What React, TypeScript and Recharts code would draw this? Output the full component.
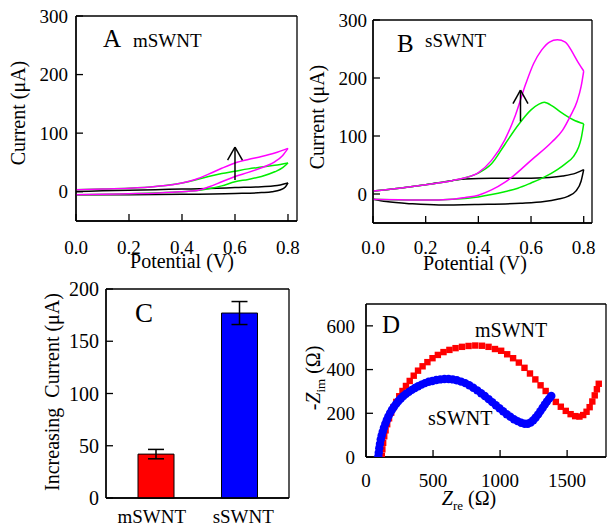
import React from 'react';
import {
  LineChart,
  Line,
  XAxis,
  YAxis,
  CartesianGrid,
  ReferenceLine,
  BarChart,
  Bar,
  Cell,
  ErrorBar,
  ScatterChart,
  Scatter,
} from 'recharts';

const FONT = '"Liberation Serif", "Times New Roman", Times, serif';

// Panel A - mSWNT cyclic voltammograms, [potential V, current uA]
const aBlackFwd = [[0, 0.5], [0.1, 1.5], [0.2, 2.5], [0.3, 3.5], [0.4, 4.5], [0.5, 5.5], [0.6, 7], [0.7, 8.5], [0.75, 10], [0.8, 15]];
const aBlackRev = [[0, -5], [0.2, -5], [0.4, -4.5], [0.6, -3], [0.7, -1.5], [0.74, 0], [0.77, 3], [0.79, 8], [0.8, 15]];
const aGreenFwd = [[0, 3.5], [0.1, 4.5], [0.2, 6], [0.3, 9], [0.4, 15], [0.45, 20], [0.5, 26], [0.55, 31], [0.6, 35], [0.65, 39], [0.7, 42], [0.75, 45], [0.8, 49]];
const aGreenRev = [[0, -5], [0.2, -3.5], [0.4, 0], [0.45, 1.5], [0.5, 5], [0.55, 10], [0.6, 17], [0.65, 21], [0.7, 26], [0.75, 34], [0.78, 41], [0.8, 49]];
const aPinkFwd = [[0, 3.5], [0.1, 4.5], [0.2, 6], [0.3, 9], [0.4, 15], [0.45, 21], [0.5, 30], [0.55, 40], [0.6, 49], [0.65, 55], [0.7, 60], [0.75, 66], [0.8, 74]];
const aPinkRev = [[0, -5], [0.1, -4.5], [0.2, -3.5], [0.3, -2.5], [0.4, 0], [0.45, 1.5], [0.5, 8], [0.55, 17], [0.6, 26], [0.65, 33], [0.7, 41], [0.75, 51], [0.78, 62], [0.8, 74]];

// Panel B - sSWNT cyclic voltammograms
const bBlackFwd = [[0, 5], [0.1, 10], [0.2, 16], [0.3, 23], [0.35, 26], [0.45, 27], [0.55, 27], [0.65, 28], [0.72, 31], [0.77, 36], [0.8, 42]];
const bBlackRev = [[0, -9], [0.05, -13], [0.15, -17], [0.25, -19], [0.4, -18], [0.56, -16], [0.65, -13], [0.7, -9], [0.74, -4], [0.77, 5], [0.79, 22], [0.8, 42]];
const bGreenFwd = [[0, 5], [0.1, 10], [0.2, 16], [0.3, 23], [0.35, 28], [0.4, 36], [0.45, 52], [0.5, 85], [0.55, 118], [0.6, 145], [0.63, 155], [0.65, 158], [0.68, 152], [0.71, 142], [0.76, 128], [0.8, 121]];
const bGreenRev = [[0, -9], [0.2, -10.5], [0.3, -9], [0.4, -5], [0.45, -1], [0.5, 4], [0.55, 10], [0.6, 19], [0.65, 29], [0.7, 42], [0.73, 52], [0.76, 64], [0.78, 80], [0.79, 95], [0.8, 121]];
const bPinkFwd = [[0, 5], [0.1, 10], [0.2, 16], [0.3, 23], [0.35, 28], [0.4, 37], [0.45, 58], [0.5, 93], [0.54, 135], [0.58, 190], [0.61, 225], [0.64, 248], [0.67, 262], [0.7, 266], [0.73, 262], [0.76, 242], [0.78, 226], [0.8, 212]];
const bPinkRev = [[0, -9], [0.1, -10], [0.2, -10.5], [0.3, -9], [0.35, -6], [0.4, -2], [0.45, 7], [0.5, 20], [0.53, 30], [0.6, 58], [0.68, 90], [0.72, 110], [0.75, 135], [0.775, 160], [0.79, 185], [0.8, 212]];

// arrows: [x, yStart, yTip]
const arrowA = [0.6, 20, 76];
const arrowB = [0.56, 125, 179];

const potTicks = [0, 0.2, 0.4, 0.6, 0.8];
const curTicks = [0, 100, 200, 300];

// Panel C - increasing current
const barCats = ['mSWNT', 'sSWNT'];
const barVals = [42, 177];
const barErrs = [4.5, 11];
const barColors = ['#ff0000', '#0000ff'];
const incTicks = [0, 50, 100, 150, 200];

// Panel D - Nyquist plots, [Zre, -Zim] ohm
const dM = [
  [118, 5], [122, 35], [128, 65], [136, 95], [146, 122], [158, 150], [172, 177], [188, 203], [206, 228],
  [226, 252], [248, 278], [272, 302], [298, 325], [326, 348], [356, 372], [388, 395], [422, 415],
  [458, 434], [496, 452], [536, 467], [578, 480], [622, 490], [668, 498], [716, 504], [765, 508],
  [815, 510], [865, 509], [914, 504], [962, 494], [1008, 486], [1053, 470], [1097, 452], [1140, 432],
  [1182, 408], [1223, 382], [1263, 355], [1302, 328], [1340, 302], [1378, 276], [1416, 252],
  [1453, 230], [1490, 211], [1526, 196], [1560, 187], [1592, 185], [1620, 192], [1645, 207],
  [1668, 228], [1688, 254], [1706, 282], [1722, 310], [1736, 335],
];
const dS = [
  [92, 2], [95, 20], [99, 40], [104, 60], [110, 80], [117, 98], [125, 116], [134, 134], [144, 151],
  [155, 168], [167, 186], [180, 201], [194, 216], [209, 230], [225, 243], [242, 256], [260, 268],
  [279, 279], [299, 289], [320, 298], [342, 307], [365, 316], [389, 324], [414, 331], [440, 338],
  [467, 344], [495, 348], [524, 352], [554, 355], [585, 357], [616, 357], [647, 355], [678, 351],
  [709, 345], [740, 338], [770, 328], [800, 317], [829, 305], [858, 292], [886, 279], [914, 265],
  [941, 251], [968, 237], [995, 223], [1022, 209], [1049, 196], [1076, 184], [1103, 173],
  [1130, 164], [1157, 157], [1183, 152], [1207, 152], [1228, 158], [1248, 168], [1266, 181],
  [1284, 195], [1301, 210], [1318, 225], [1334, 240], [1350, 254], [1366, 267], [1382, 279],
];
const zreTicks = [0, 500, 1000, 1500];
const zimTicks = [0, 200, 400, 600];

const pts = (a: number[][]) => a.map(([x, y]) => ({ x, y }));

const serif = { fontFamily: FONT };

const leftTick = (gap: number, size: number) => (p: any) => (
  <g>
    <line x1={p.x} x2={p.x + 7} y1={p.y} y2={p.y} stroke="#000" strokeWidth={1.3} />
    <text x={p.x - gap} y={p.y} dy="0.35em" textAnchor="end" fontSize={size} style={serif} fill="#000">
      {p.payload.value}
    </text>
  </g>
);

const bottomTick = (off: number, size: number, fmt?: (v: number) => string) => (p: any) => (
  <g>
    <line x1={p.x} x2={p.x} y1={p.y} y2={p.y - 7} stroke="#000" strokeWidth={1.3} />
    <text x={p.x} y={p.y + off} dy="0.35em" textAnchor="middle" fontSize={size} style={serif} fill="#000">
      {fmt ? fmt(p.payload.value) : p.payload.value}
    </text>
  </g>
);

const catTick = (p: any) => (
  <text x={p.x + (p.index === 0 ? -4 : 4)} y={p.y + 25} textAnchor="middle" fontSize={19} style={serif} fill="#000">
    {p.payload.value}
  </text>
);

const axisLine = { stroke: '#000', strokeWidth: 1.3 };

const boxGrid = (
  <CartesianGrid
    stroke="#000"
    strokeWidth={1.3}
    horizontalCoordinatesGenerator={({ offset }: any) => [offset.top, offset.top + offset.height]}
    verticalCoordinatesGenerator={({ offset }: any) => [offset.left, offset.left + offset.width]}
  />
);

const arrowLines = (a: number[], headW: number, headH: number) => {
  const [x, y0, y1] = a;
  return [
    <ReferenceLine key="s" segment={[{ x, y: y0 }, { x, y: y1 }]} stroke="#000" strokeWidth={1.5} />,
    <ReferenceLine key="l" segment={[{ x: x - headW, y: y1 - headH }, { x, y: y1 }]} stroke="#000" strokeWidth={1.5} />,
    <ReferenceLine key="r" segment={[{ x: x + headW, y: y1 - headH }, { x, y: y1 }]} stroke="#000" strokeWidth={1.5} />,
  ];
};

const cvLine = (d: number[][], color: string, key: string) => (
  <Line
    key={key}
    data={pts(d)}
    dataKey="y"
    type="monotone"
    stroke={color}
    strokeWidth={1.5}
    dot={false}
    isAnimationActive={false}
  />
);

const Square = (p: any) => <rect x={p.cx - 3.2} y={p.cy - 3.2} width={6.4} height={6.4} fill="#ff0000" />;
const Dot = (p: any) => <circle cx={p.cx} cy={p.cy} r={4.2} fill="#0000ff" />;

export default function App() {
  const barData = barCats.map((name, i) => ({ name, value: barVals[i], err: barErrs[i] }));
  return (
    <div style={{ position: 'absolute', left: 0, top: 0, width: 610, height: 527, background: '#fff', fontFamily: FONT }}>
      <div style={{ position: 'absolute', left: 0, top: 0 }}>
        <LineChart width={305} height={275} margin={{ top: 16, right: 8, left: 0, bottom: 0 }} style={serif}>
          {boxGrid}
          <XAxis type="number" dataKey="x" domain={[0, 0.834]} ticks={potTicks} interval={0} allowDataOverflow
            height={54} tickLine={false} tickSize={0} tickMargin={0} axisLine={axisLine}
            tick={bottomTick(26, 19, (v) => v.toFixed(1))} />
          <YAxis type="number" domain={[-50, 300]} ticks={curTicks} interval={0} allowDataOverflow
            width={76} tickLine={false} tickSize={0} tickMargin={0} axisLine={axisLine} tick={leftTick(8, 19)} />
          {cvLine(aBlackFwd, '#000', 'a1')}
          {cvLine(aBlackRev, '#000', 'a2')}
          {cvLine(aGreenFwd, '#00ee00', 'a3')}
          {cvLine(aGreenRev, '#00ee00', 'a4')}
          {cvLine(aPinkFwd, '#ff00ff', 'a5')}
          {cvLine(aPinkRev, '#ff00ff', 'a6')}
          {arrowLines(arrowA, 0.028, 22)}
        </LineChart>
      </div>
      <div style={{ position: 'absolute', left: 300, top: 0 }}>
        <LineChart width={305} height={275} margin={{ top: 20, right: 13, left: 0, bottom: 0 }} style={serif}>
          {boxGrid}
          <XAxis type="number" dataKey="x" domain={[0, 0.8315]} ticks={potTicks} interval={0} allowDataOverflow
            height={52} tickLine={false} tickSize={0} tickMargin={0} axisLine={axisLine}
            tick={bottomTick(24.5, 19, (v) => v.toFixed(1))} />
          <YAxis type="number" domain={[-50, 300]} ticks={curTicks} interval={0} allowDataOverflow
            width={73} tickLine={false} tickSize={0} tickMargin={0} axisLine={axisLine} tick={leftTick(6, 19)} />
          {cvLine(bBlackFwd, '#000', 'b1')}
          {cvLine(bBlackRev, '#000', 'b2')}
          {cvLine(bGreenFwd, '#00ee00', 'b3')}
          {cvLine(bGreenRev, '#00ee00', 'b4')}
          {cvLine(bPinkFwd, '#ff00ff', 'b5')}
          {cvLine(bPinkRev, '#ff00ff', 'b6')}
          {arrowLines(arrowB, 0.0285, 23)}
        </LineChart>
      </div>
      <div style={{ position: 'absolute', left: 0, top: 275 }}>
        <BarChart width={305} height={252} data={barData} margin={{ top: 14, right: 16, left: 0, bottom: 0 }} style={serif}>
          {boxGrid}
          <XAxis dataKey="name" height={29} padding={{ left: 8, right: 8 }} tickLine={false} tickSize={0}
            tickMargin={0} axisLine={axisLine} tick={catTick} interval={0} />
          <YAxis type="number" domain={[0, 200]} ticks={incTicks} interval={0} width={106} tickLine={false}
            tickSize={0} tickMargin={0} axisLine={axisLine} tick={leftTick(7, 20)} />
          <Bar dataKey="value" barSize={36} stroke="#000" strokeWidth={1} isAnimationActive={false}>
            {barData.map((d, i) => (
              <Cell key={d.name} fill={barColors[i]} />
            ))}
            <ErrorBar dataKey="err" width={8} stroke="#000" strokeWidth={1.5} />
          </Bar>
        </BarChart>
      </div>
      <div style={{ position: 'absolute', left: 300, top: 275 }}>
        <ScatterChart width={310} height={252} margin={{ top: 29, right: 4, left: 0, bottom: 0 }} style={serif}>
          {boxGrid}
          <XAxis type="number" dataKey="x" domain={[0, 1790]} ticks={zreTicks} interval={0} allowDataOverflow
            height={70} tickLine={false} tickSize={0} tickMargin={0} axisLine={axisLine} tick={bottomTick(23, 19)} />
          <YAxis type="number" dataKey="y" domain={[0, 700]} ticks={zimTicks} interval={0} allowDataOverflow
            width={66} tickLine={false} tickSize={0} tickMargin={0} axisLine={axisLine} tick={leftTick(11, 19)} />
          <Scatter data={pts(dM)} shape={Square} isAnimationActive={false} />
          <Scatter data={pts(dS)} shape={Dot} isAnimationActive={false} />
        </ScatterChart>
      </div>
      <svg width={610} height={527} style={{ position: 'absolute', left: 0, top: 0, pointerEvents: 'none' }}>
        <g fill="#000" style={serif}>
          <text x={103} y={47} fontSize={25}>A</text>
          <text x={133} y={47} fontSize={19}>mSWNT</text>
          <text x={397} y={52} fontSize={25}>B</text>
          <text x={425} y={47} fontSize={19}>sSWNT</text>
          <text x={135} y={322} fontSize={27}>C</text>
          <text x={382} y={333} fontSize={25}>D</text>
          <text x={475} y={337} fontSize={20}>mSWNT</text>
          <text x={428} y={425} fontSize={20}>sSWNT</text>

          <text x={182} y={268} fontSize={20} textAnchor="middle">Potential (V)</text>
          <text x={475} y={270} fontSize={20} textAnchor="middle">Potential (V)</text>
          <text x={24.5} y={113} fontSize={20} textAnchor="middle" transform="rotate(-90 24.5 113)">Current (μA)</text>
          <text x={324} y={117} fontSize={20} textAnchor="middle" transform="rotate(-90 324 117)">Current (μA)</text>
          <text x={59} y={392} fontSize={20} textAnchor="middle" transform="rotate(-90 59 392)">
            Increasing{'\u00a0\u00a0'}Current (μA)
          </text>
          <text x={469} y={505} fontSize={20} textAnchor="middle">
            <tspan fontStyle="italic">Z</tspan>
            <tspan fontSize={13} dy={5}>re</tspan>
            <tspan dy={-5}> (Ω)</tspan>
          </text>
          <text x={320} y={378} fontSize={20} textAnchor="middle" transform="rotate(-90 320 378)">
            <tspan>-</tspan>
            <tspan fontStyle="italic">Z</tspan>
            <tspan fontSize={13} dy={5}>im</tspan>
            <tspan dy={-5}> (Ω)</tspan>
          </text>
        </g>
      </svg>
    </div>
  );
}
